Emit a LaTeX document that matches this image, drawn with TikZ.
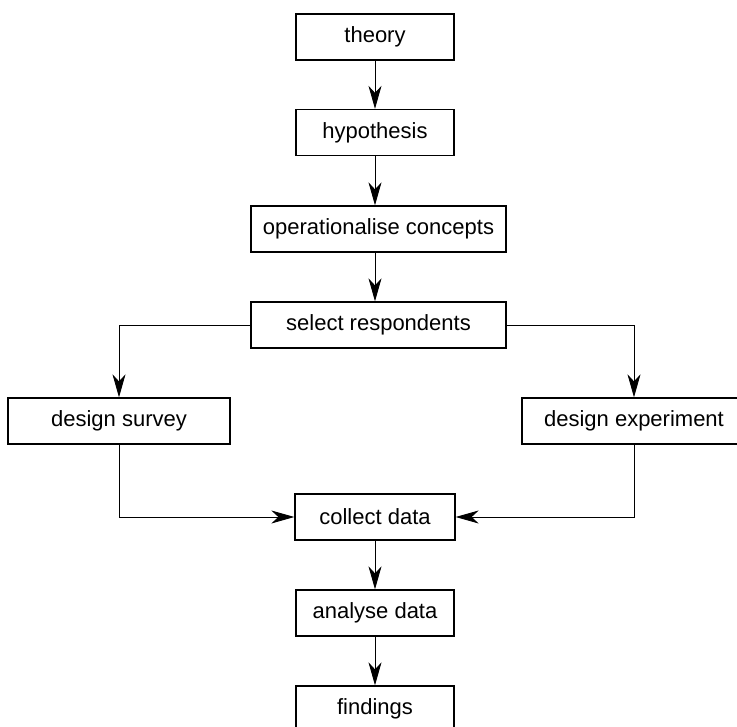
\documentclass[tikz,border=0pt]{standalone}
\usepackage{fontspec}
\setmainfont{Liberation Sans}
\usetikzlibrary{positioning,arrows.meta}

\begin{document}
\begin{tikzpicture}[
    x=1pt,y=-1pt,
    every node/.style={font=\fontsize{22}{26}\selectfont},
    stage/.style={rectangle,draw,line width=1.3pt,minimum height=46pt,inner sep=0pt},
    flow/.style={line width=0.9pt,-{Stealth[length=23pt,width=13pt,inset=7pt]}},
  ]
  \useasboundingbox (0,0) rectangle (737,727);
  \clip (0,0) rectangle (737,727);

  % main column
  \node[stage,minimum width=158pt] (theory)  at (375,37)    {theory};
  \node[stage,minimum width=158pt] (hypo)    at (375,132.5) {hypothesis};
  \node[stage,minimum width=255pt] (oper)    at (378.5,229) {operationalise concepts};
  \node[stage,minimum width=255pt] (select)  at (378.5,325) {select respondents};

  % two designs
  \node[stage,minimum width=222pt] (survey)  at (119,421)   {design survey};
  \node[stage,minimum width=224pt] (exper)   at (634,421)   {design experiment};

  \node[stage,minimum width=160pt] (collect) at (375,517)   {collect data};
  \node[stage,minimum width=158pt] (analyse) at (375,613)   {analyse data};
  \node[stage,minimum width=158pt] (find)    at (375,709)   {findings};

  \draw[flow] (theory) -- (hypo);
  \draw[flow] (hypo) -- (theory |- oper.north);
  \draw[flow] (theory |- oper.south) -- (theory |- select.north);
  \draw[flow] (select.west) -| (survey.north);
  \draw[flow] (select.east) -| (exper.north);
  \draw[flow] (survey.south) |- (collect.west);
  \draw[flow] (exper.south) |- (collect.east);
  \draw[flow] (collect) -- (analyse);
  \draw[flow] (analyse) -- (find);
\end{tikzpicture}
\end{document}
